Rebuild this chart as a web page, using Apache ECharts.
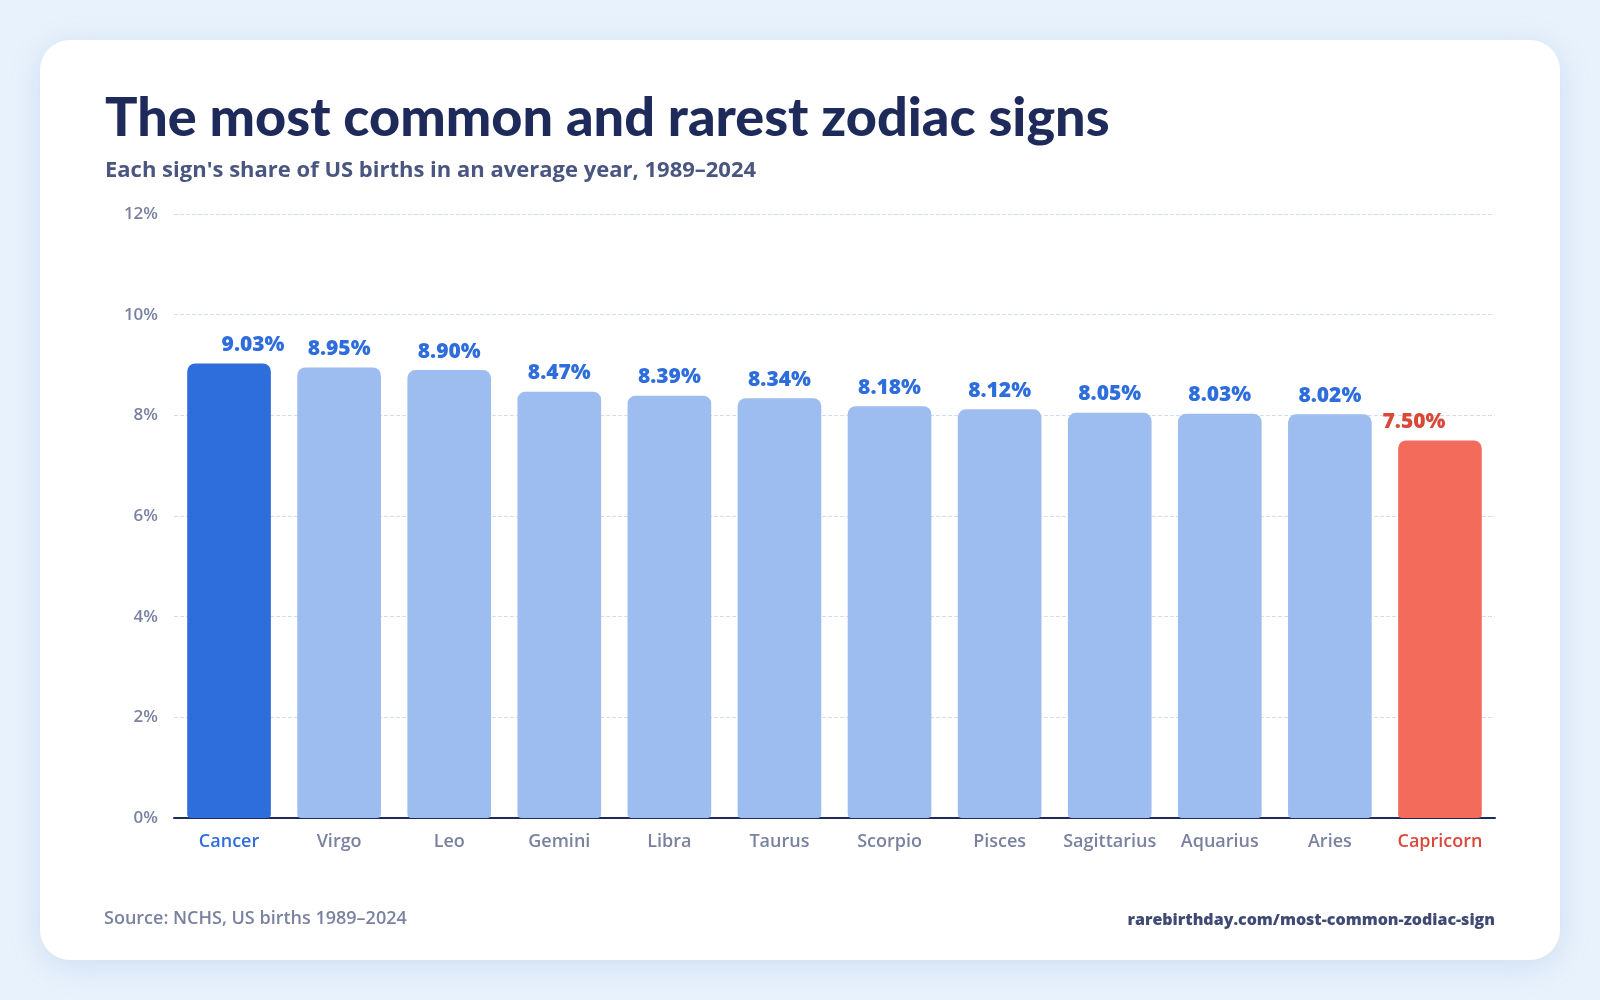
<!DOCTYPE html>
<html><head><meta charset="utf-8">
<script src="https://cdn.jsdelivr.net/npm/echarts@6/dist/echarts.min.js"></script>
<style>
html,body{margin:0;padding:0;background:#e8f2fc;width:1600px;height:1000px;overflow:hidden;}
#card{position:absolute;left:40px;top:40px;width:1520px;height:920px;background:#fff;border-radius:30px;box-shadow:0 6px 30px rgba(120,150,200,0.22);}
#chart{position:absolute;left:0;top:0;width:1600px;height:1000px;}
</style></head>
<body><div id="card"></div><div id="chart"></div>
<script>
const signs = ['Cancer','Virgo','Leo','Gemini','Libra','Taurus','Scorpio','Pisces','Sagittarius','Aquarius','Aries','Capricorn'];
const shares = [9.03,8.95,8.90,8.47,8.39,8.34,8.18,8.12,8.05,8.03,8.02,7.50];
const yTicks = [0,2,4,6,8,10,12];

const titleText = 'The most common and rarest zodiac signs';
const subtitleText = "Each sign's share of US births in an average year, 1989\u20132024";
const sourceText = 'Source: NCHS, US births 1989\u20132024';
const urlText = 'rarebirthday.com/most-common-zodiac-sign';

const HI = '#2e6ddc', MID = '#9dbcf0', LO = '#f26b5b', LO_TXT = '#d9493a';
const BODY = "'Open Sans'";
const maxI = shares.indexOf(Math.max(...shares));
const minI = shares.indexOf(Math.min(...shares));

const chart = echarts.init(document.getElementById('chart'));
const data = shares.map((v,i)=>{
  const c = i===maxI?HI:(i===minI?LO:MID);
  const item = {value:v,itemStyle:{color:c}};
  if(i===maxI) item.label={offset:[24,0]};
  if(i===minI) item.label={offset:[-26,0],color:LO_TXT};
  return item;
});
chart.setOption({
  animation:false,
  title:[{
    text:titleText,left:100,top:87,
    textStyle:{fontFamily:'Lato',fontWeight:900,fontSize:54,color:'#1e2a5a'}
  },{
    text:subtitleText,left:100,top:155,
    textStyle:{fontFamily:BODY,fontWeight:700,fontSize:22,color:'#4a5680'}
  }],
  grid:{left:174,right:105,top:214,bottom:182,containLabel:false},
  xAxis:{
    type:'category',data:signs,
    axisLine:{lineStyle:{color:'#1e2a5a',width:2}},
    axisTick:{show:false},
    axisLabel:{interval:0,margin:15,fontFamily:BODY,fontWeight:600,fontSize:18,
      color:(v,i)=> i===maxI?HI:(i===minI?LO_TXT:'#7a82a0')}
  },
  yAxis:{
    type:'value',min:0,max:12,interval:2,
    axisLabel:{formatter:v=>v+'%',fontFamily:BODY,fontWeight:600,fontSize:17,color:'#7a82a0',margin:16},
    splitLine:{lineStyle:{color:'#d5deea',type:'dashed'}},
    axisLine:{show:false},axisTick:{show:false}
  },
  series:[{
    type:'bar',data:data,barCategoryGap:'24%',
    itemStyle:{borderRadius:[8,8,4,4]},
    label:{show:true,position:'top',distance:8,formatter:p=>p.value.toFixed(2)+'%',
      fontFamily:BODY,fontWeight:800,fontSize:21,color:HI}
  }],
  graphic:[{
    type:'text',left:104,top:910,
    style:{text:sourceText,fontFamily:BODY,fontWeight:600,fontSize:18,fill:'#7a82a0'}
  },{
    type:'text',right:105,top:912,
    style:{text:urlText,fontFamily:BODY,fontWeight:800,fontSize:16,fill:'#3f4a75'}
  }]
});
</script></body></html>
